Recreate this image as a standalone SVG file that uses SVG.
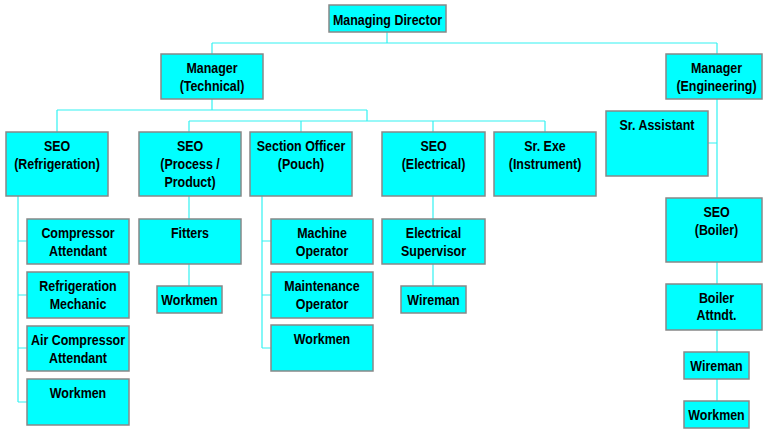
<svg xmlns="http://www.w3.org/2000/svg" width="763" height="430" viewBox="0 0 763 430">
  <style>
    .box { fill: #00ffff; stroke: #888888; stroke-width: 1.5; }
    .lbl { font-family: "Liberation Sans", Arial, sans-serif; font-size: 15px; font-weight: bold; fill: #000000; text-anchor: middle; }
    .wire { fill: none; stroke: #33f2f2; stroke-width: 1.2; }
  </style>
  <rect width="763" height="430" fill="#ffffff"/>

  <!-- reporting lines -->
  <g id="connectors" class="wire">
    <path d="M387,32 V43 M212,43 H717 M212,43 V54 M717,43 V54"/>
    <path d="M212,99 V110 M57,110 H367 M57,110 V132 M367,110 V121 M189,121 H545 M189,121 V132 M301,121 V132 M433,121 V132 M545,121 V132"/>
    <path d="M717,99 V198 M708,143 H717"/>
    <path d="M18,196 V402 M18,241 H27 M18,295 H27 M18,348 H27 M18,402 H27"/>
    <path d="M189,196 V219 M189,264 V286"/>
    <path d="M262,196 V348 M262,241 H271 M262,295 H271 M262,348 H271"/>
    <path d="M433,196 V219 M433,264 V286"/>
    <path d="M717,262 V284 M717,330 V352 M717,379 V401"/>
  </g>

  <g id="managing-director">
    <rect class="box" x="329" y="5" width="117" height="27"/>
    <text class="lbl" transform="translate(387.5,25) scale(0.83,1)">Managing Director</text>
  </g>

  <g id="manager-technical">
    <rect class="box" x="161" y="54" width="102" height="45"/>
    <text class="lbl" transform="translate(212,73) scale(0.83,1)"><tspan x="0">Manager</tspan><tspan x="0" dy="18.5">(Technical)</tspan></text>
  </g>

  <g id="manager-engineering">
    <rect class="box" x="666" y="54" width="96" height="45"/>
    <text class="lbl" transform="translate(716.5,73) scale(0.83,1)"><tspan x="0">Manager</tspan><tspan x="0" dy="18.5">(Engineering)</tspan></text>
  </g>

  <g id="seo-refrigeration">
    <rect class="box" x="6" y="132" width="102" height="64"/>
    <text class="lbl" transform="translate(57,151) scale(0.83,1)"><tspan x="0">SEO</tspan><tspan x="0" dy="18.5">(Refrigeration)</tspan></text>
  </g>

  <g id="seo-process">
    <rect class="box" x="139" y="132" width="102" height="64"/>
    <text class="lbl" transform="translate(190,151) scale(0.83,1)"><tspan x="0">SEO</tspan><tspan x="0" dy="18.5">(Process /</tspan><tspan x="0" dy="18">Product)</tspan></text>
  </g>

  <g id="section-officer-pouch">
    <rect class="box" x="250" y="132" width="102" height="64"/>
    <text class="lbl" transform="translate(301,151) scale(0.83,1)"><tspan x="0">Section Officer</tspan><tspan x="0" dy="18.5">(Pouch)</tspan></text>
  </g>

  <g id="seo-electrical">
    <rect class="box" x="382" y="132" width="103" height="64"/>
    <text class="lbl" transform="translate(433.5,151) scale(0.83,1)"><tspan x="0">SEO</tspan><tspan x="0" dy="18.5">(Electrical)</tspan></text>
  </g>

  <g id="sr-exe-instrument">
    <rect class="box" x="494" y="132" width="102" height="64"/>
    <text class="lbl" transform="translate(545,151) scale(0.83,1)"><tspan x="0">Sr. Exe</tspan><tspan x="0" dy="18.5">(Instrument)</tspan></text>
  </g>

  <g id="sr-assistant">
    <rect class="box" x="606" y="111" width="102" height="65"/>
    <text class="lbl" transform="translate(657,130) scale(0.83,1)">Sr. Assistant</text>
  </g>

  <g id="seo-boiler">
    <rect class="box" x="666" y="198" width="96" height="64"/>
    <text class="lbl" transform="translate(716.5,217) scale(0.83,1)"><tspan x="0">SEO</tspan><tspan x="0" dy="18.5">(Boiler)</tspan></text>
  </g>

  <g id="compressor-attendant">
    <rect class="box" x="27" y="219" width="102" height="45"/>
    <text class="lbl" transform="translate(78,238) scale(0.83,1)"><tspan x="0">Compressor</tspan><tspan x="0" dy="18">Attendant</tspan></text>
  </g>

  <g id="refrigeration-mechanic">
    <rect class="box" x="27" y="272" width="102" height="46"/>
    <text class="lbl" transform="translate(78,291) scale(0.83,1)"><tspan x="0">Refrigeration</tspan><tspan x="0" dy="18">Mechanic</tspan></text>
  </g>

  <g id="air-compressor-attendant">
    <rect class="box" x="27" y="326" width="102" height="45"/>
    <text class="lbl" transform="translate(78,345) scale(0.83,1)"><tspan x="0">Air Compressor</tspan><tspan x="0" dy="18">Attendant</tspan></text>
  </g>

  <g id="workmen-refrigeration">
    <rect class="box" x="27" y="379" width="102" height="46"/>
    <text class="lbl" transform="translate(78,398) scale(0.83,1)">Workmen</text>
  </g>

  <g id="fitters">
    <rect class="box" x="139" y="219" width="102" height="45"/>
    <text class="lbl" transform="translate(190,237.5) scale(0.83,1)">Fitters</text>
  </g>

  <g id="workmen-fitters">
    <rect class="box" x="157" y="286" width="65" height="27"/>
    <text class="lbl" transform="translate(189.5,305) scale(0.83,1)">Workmen</text>
  </g>

  <g id="machine-operator">
    <rect class="box" x="271" y="219" width="102" height="45"/>
    <text class="lbl" transform="translate(322,238) scale(0.83,1)"><tspan x="0">Machine</tspan><tspan x="0" dy="18">Operator</tspan></text>
  </g>

  <g id="maintenance-operator">
    <rect class="box" x="271" y="272" width="102" height="46"/>
    <text class="lbl" transform="translate(322,291) scale(0.83,1)"><tspan x="0">Maintenance</tspan><tspan x="0" dy="18">Operator</tspan></text>
  </g>

  <g id="workmen-pouch">
    <rect class="box" x="271" y="325" width="102" height="46"/>
    <text class="lbl" transform="translate(322,344) scale(0.83,1)">Workmen</text>
  </g>

  <g id="electrical-supervisor">
    <rect class="box" x="382" y="219" width="103" height="45"/>
    <text class="lbl" transform="translate(433.5,238) scale(0.83,1)"><tspan x="0">Electrical</tspan><tspan x="0" dy="18">Supervisor</tspan></text>
  </g>

  <g id="wireman-electrical">
    <rect class="box" x="401" y="286" width="65" height="27"/>
    <text class="lbl" transform="translate(433.5,305) scale(0.83,1)">Wireman</text>
  </g>

  <g id="boiler-attendant">
    <rect class="box" x="666" y="284" width="96" height="46"/>
    <text class="lbl" transform="translate(716.5,303) scale(0.83,1)"><tspan x="0">Boiler</tspan><tspan x="0" dy="17.5">Attndt.</tspan></text>
  </g>

  <g id="wireman-boiler">
    <rect class="box" x="684" y="352" width="65" height="27"/>
    <text class="lbl" transform="translate(716.5,371) scale(0.83,1)">Wireman</text>
  </g>

  <g id="workmen-boiler">
    <rect class="box" x="684" y="401" width="65" height="27"/>
    <text class="lbl" transform="translate(716.5,420) scale(0.83,1)">Workmen</text>
  </g>
</svg>
